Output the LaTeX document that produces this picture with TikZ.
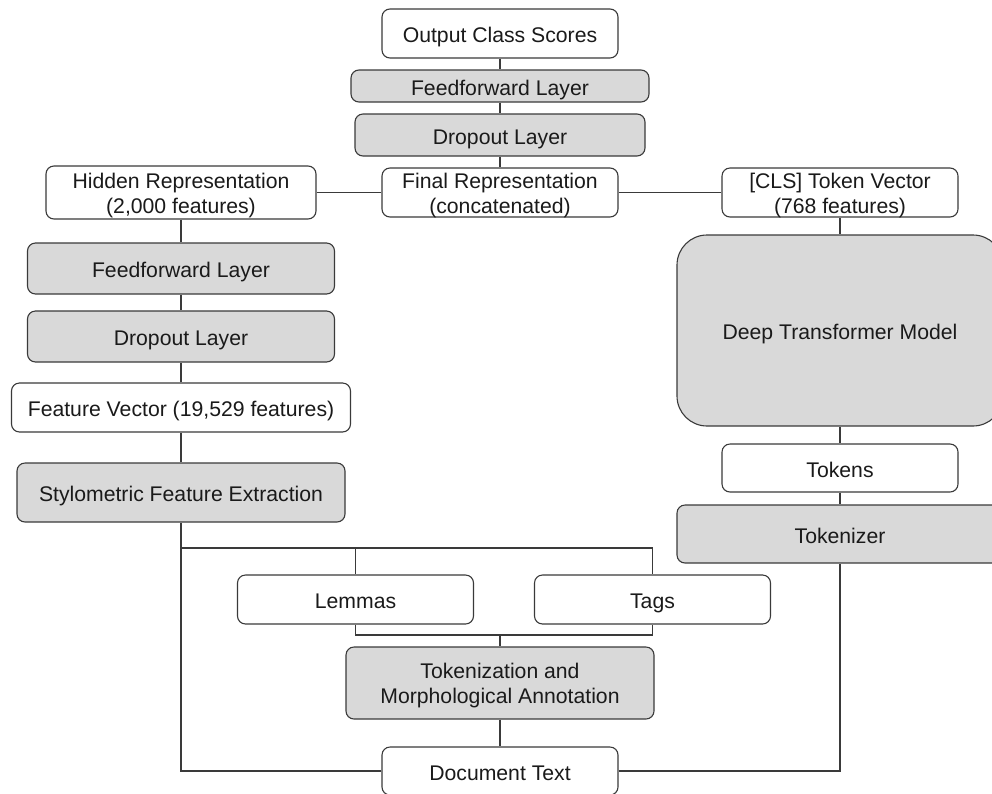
\documentclass[tikz,border=0pt]{standalone}
\usepackage{fontspec}
\setmainfont{Liberation Sans}
\definecolor{boxfill}{HTML}{D9D9D9}
\definecolor{edgecol}{HTML}{3A3A3A}
\definecolor{txtcol}{HTML}{1A1A1A}
\begin{document}
\begin{tikzpicture}[x=1pt,y=-1pt,
  box/.style={draw=edgecol, line width=1.1pt, rounded corners=8pt, fill=white, inner sep=0pt, align=center,
    text=txtcol, font=\fontsize{21.2}{25}\selectfont, text height=18pt, text depth=0pt},
  gbox/.style={box, fill=boxfill},
  twoline/.style={text height=41pt, text depth=0pt},
  conn/.style={draw=edgecol, line width=1.3pt}]
\useasboundingbox (0,0) rectangle (992,793);
\clip (0,0) rectangle (992,793);
% top column
\node[box, minimum width=236pt, minimum height=49pt] (out) at (500,33.5) {Output Class Scores};
\node[gbox, minimum width=298pt, minimum height=32pt] (ff1) at (500,86) {Feedforward Layer};
\node[gbox, minimum width=290pt, minimum height=42pt] (do1) at (500,135) {Dropout Layer};
\node[box, twoline, minimum width=236pt, minimum height=49pt] (fin) at (500,192.5) {Final Representation\\(concatenated)};
% left column
\node[box, twoline, minimum width=270pt, minimum height=53pt] (hid) at (181,192.5) {Hidden Representation\\(2,000 features)};
\node[gbox, minimum width=307pt, minimum height=51pt] (ff2) at (181,268.5) {Feedforward Layer};
\node[gbox, minimum width=307pt, minimum height=51pt] (do2) at (181,336.5) {Dropout Layer};
\node[box, minimum width=339pt, minimum height=49pt] (fv) at (181,407.5) {Feature Vector (19,529 features)};
\node[gbox, minimum width=328pt, minimum height=59pt] (sty) at (181,492.5) {Stylometric Feature Extraction};
% right column
\node[box, twoline, minimum width=236pt, minimum height=49pt] (cls) at (840,192.5) {[CLS] Token Vector\\(768 features)};
\node[gbox, rounded corners=30pt, minimum width=326pt, minimum height=191pt] (dtm) at (840,330.5) {Deep Transformer Model};
\node[box, minimum width=236pt, minimum height=48pt] (tok) at (840,468) {Tokens};
\node[gbox, minimum width=326pt, minimum height=58pt] (tkz) at (840,534) {Tokenizer};
% bottom
\node[box, minimum width=236pt, minimum height=49pt] (lem) at (355.5,599.5) {Lemmas};
\node[box, minimum width=236pt, minimum height=49pt] (tags) at (652.5,599.5) {Tags};
\node[gbox, twoline, minimum width=308pt, minimum height=72pt] (tma) at (500,683) {Tokenization and\\Morphological Annotation};
\node[box, minimum width=236pt, minimum height=48pt] (doc) at (500,771) {Document Text};
\coordinate (j1) at (181,548);
\coordinate (j2) at (500,635);
% connectors
\draw[conn] (out) -- (ff1);
\draw[conn] (ff1) -- (do1);
\draw[conn] (do1) -- (fin);
\draw[conn] (hid) -- (fin);
\draw[conn] (fin) -- (cls);
\draw[conn] (hid) -- (ff2);
\draw[conn] (ff2) -- (do2);
\draw[conn] (do2) -- (fv);
\draw[conn] (fv) -- (sty);
\draw[conn] (cls) -- (dtm);
\draw[conn] (dtm) -- (tok);
\draw[conn] (tok) -- (tkz);
\draw[conn] (sty.south) -- (j1) -| (lem.north);
\draw[conn] (j1) -| (tags.north);
\draw[conn] (lem.south) |- (j2) -| (tags.south);
\draw[conn] (j2) -- (tma.north);
\draw[conn] (tma) -- (doc);
\draw[conn] (doc.west) -| (j1);
\draw[conn] (doc.east) -| (tkz.south);
\end{tikzpicture}
\end{document}
